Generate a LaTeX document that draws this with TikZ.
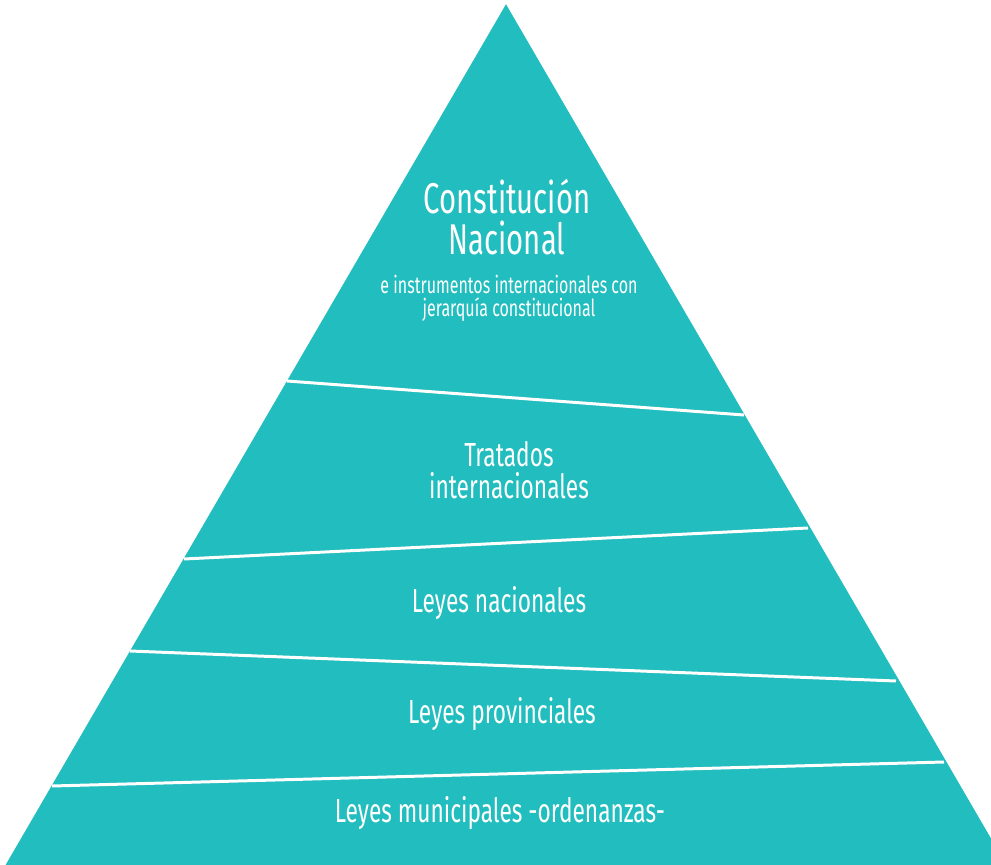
\documentclass[tikz,border=0pt]{standalone}
\usepackage{fontspec}
\setmainfont[FakeStretch=0.68]{Fira Sans}
\usetikzlibrary{positioning}
\definecolor{pyramidteal}{RGB}{34,189,190}

\begin{document}
\begin{tikzpicture}[x=0.02cm, y=-0.02cm,
    divider/.style={white, line width=1.7pt},
    level/.style={text=white, align=center, font=\fontsize{19}{18}\selectfont}]
    \useasboundingbox (0,0) rectangle (991,865);
    \clip (0,0) rectangle (991,865);

    % Corners of the pyramid
    \coordinate (apex) at (506,5);
    \coordinate (baseL) at (6,865);
    \coordinate (baseR) at (1006,865);
    \filldraw[pyramidteal] (apex) -- (baseL) -- (baseR) -- cycle;

    % Ends of the dividing lines
    \coordinate (d1L) at (287,381);
    \coordinate (d1R) at (744,415);
    \coordinate (d2L) at (184,559);
    \coordinate (d2R) at (808,528);
    \coordinate (d3L) at (130,651);
    \coordinate (d3R) at (896,681);
    \coordinate (d4L) at (52,786);
    \coordinate (d4R) at (944,762);

    % Dividing lines between the levels
    \draw[divider] (d1L) -- (d1R);
    \draw[divider] (d2L) -- (d2R);
    \draw[divider] (d3L) -- (d3R);
    \draw[divider] (d4L) -- (d4R);

    % Top level
    \node[level, font=\fontsize{24.5}{23}\selectfont] (cn) at (507,217) {Constitución\\Nacional};
    \node[level, font=\fontsize{13.4}{13}\selectfont] (cnsub) at (509,298) {e instrumentos internacionales con\\jerarquía constitucional};

    % Lower levels
    \node[level] (tratados) at (509,470) {Tratados\\internacionales};
    \node[level] (nacionales) at (499,603) {Leyes nacionales};
    \node[level] (provinciales) at (502,714) {Leyes provinciales};
    \node[level] (municipales) at (500,813) {Leyes municipales -ordenanzas-};
\end{tikzpicture}
\end{document}
